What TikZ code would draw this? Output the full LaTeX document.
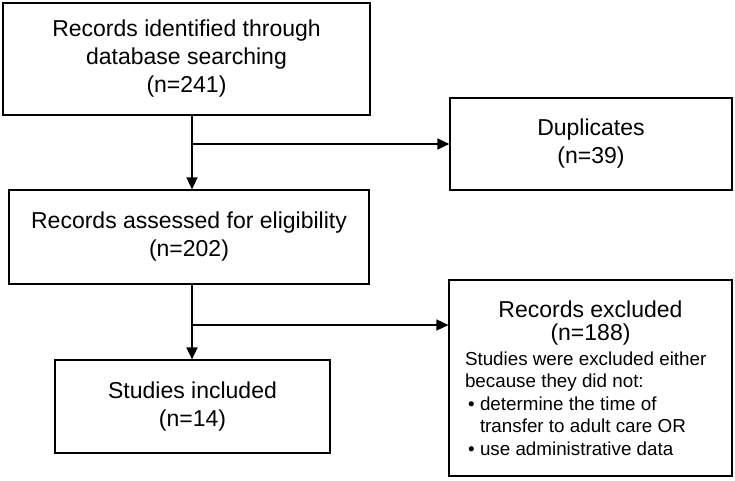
\documentclass[tikz,border=0pt]{standalone}
\usepackage{fontspec}
\setmainfont{Liberation Sans}
\usetikzlibrary{arrows.meta, positioning}
\tikzset{box/.style={draw, rectangle, line width=1.2pt, align=center, inner sep=0pt, font=\fontsize{23}{28}\selectfont},
  flow/.style={->, line width=1.6pt}}
\newcommand{\bulitem}{\makebox[15pt][l]{\hspace{3pt}\textbullet}}

\begin{document}
\begin{tikzpicture}[x=1pt, y=-1pt, >={Triangle[length=12pt,width=11pt]}]
  \useasboundingbox (0,0) rectangle (735,480);
  \node[box, minimum width=367pt, minimum height=112pt] (ident) at (186.5,59) {Records identified through\\database searching\\(n=241)};
  \node[box, minimum width=282pt, minimum height=92pt] (dupl) at (591,144) {Duplicates\\(n=39)};
  \node[box, minimum width=360pt, minimum height=94pt] (assess) at (189,237) {Records assessed for eligibility\\(n=202)};
  \node[box, minimum width=275pt, minimum height=93pt] (incl) at (192.5,406.5) {Studies included\\(n=14)};
  \node[box, align=none, minimum width=283pt, minimum height=196pt, text width=251pt, inner xsep=16pt,
        font=\fontsize{18.8}{22.5}\selectfont] (excl) at (590.5,378)
    {{\centering\fontsize{23}{23}\selectfont Records excluded\\(n=188)\par}
     \vspace{2.5pt}
     \raggedright Studies were excluded either\\because they did not:\\
     \bulitem determine the time of\\
     \hspace*{15pt}transfer to adult care OR\\
     \bulitem use administrative data};
  \coordinate (split1) at (192,144);
  \coordinate (split2) at (192,325);
  \draw[flow] (ident.south -| split1) -- (assess.north -| split1);
  \draw[flow] (split1) -- (dupl.west |- split1);
  \draw[flow] (assess.south -| split2) -- (incl.north -| split2);
  \draw[flow] (split2) -- (excl.west |- split2);
\end{tikzpicture}
\end{document}
